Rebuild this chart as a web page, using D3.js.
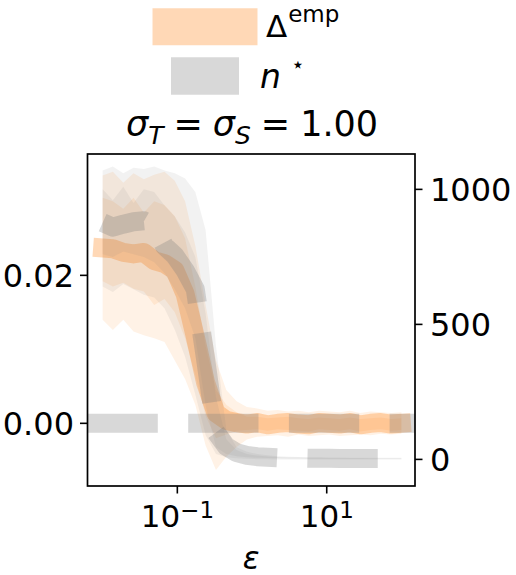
<!DOCTYPE html>
<html>
<head>
<meta charset="utf-8">
<script src="https://cdn.jsdelivr.net/npm/d3@7"></script>
<style>
body { margin: 0; background: #fff; }
text { font-family: "DejaVu Sans"; fill: #000; }
</style>
</head>
<body>
<div id="chart"></div>
<script>
var eps = [0.01, 0.0137, 0.0189, 0.0259, 0.0356, 0.049, 0.0673, 0.0924, 0.127, 0.174,
  0.239, 0.329, 0.452, 0.621, 0.853, 1.17, 1.61, 2.21, 3.04, 4.18,
  5.74, 7.88, 10.8, 14.9, 20.4, 28.1, 38.6, 53.0, 72.8, 100]

// Delta^emp (left axis)
var deltaMean = [0.0237, 0.0236, 0.0231, 0.0229, 0.0231, 0.0220, 0.0216, 0.0207, 0.0175, 0.0117,
  0.0055, 0.0014, 0.0004, 0.0001, -0.0001, 0.0001, -0.0002, 0.0000, 0.0001, -0.0001,
  -0.0002, 0.0001, 0.0000, -0.0001, 0.0001, -0.0002, 0.0000, 0.0001, -0.0001, 0.0000]
var deltaHi1 = [0.0305, 0.0300, 0.0290, 0.0305, 0.0285, 0.0300, 0.0295, 0.0280, 0.0250, 0.0185,
  0.0105, 0.0045, 0.0025, 0.0015, 0.0009, 0.0009, 0.0007, 0.0008, 0.0009, 0.0007,
  0.0006, 0.0008, 0.0007, 0.0006, 0.0008, 0.0006, 0.0007, 0.0008, 0.0006, 0.0007]
var deltaLo1 = [0.0192, 0.0185, 0.0190, 0.0182, 0.0178, 0.0160, 0.0168, 0.0150, 0.0115, 0.0065,
  0.0010, -0.0020, -0.0015, -0.0010, -0.0009, -0.0008, -0.0010, -0.0008, -0.0009, -0.0010,
  -0.0011, -0.0008, -0.0009, -0.0010, -0.0008, -0.0011, -0.0009, -0.0008, -0.0010, -0.0009]
var deltaHi2 = [0.0335, 0.0340, 0.0325, 0.0338, 0.0330, 0.0336, 0.0340, 0.0328, 0.0300, 0.0240,
  0.0160, 0.0085, 0.0045, 0.0030, 0.0022, 0.0020, 0.0017, 0.0018, 0.0016, 0.0017,
  0.0015, 0.0017, 0.0016, 0.0015, 0.0017, 0.0014, 0.0016, 0.0015, 0.0014, 0.0015]
var deltaLo2 = [0.0140, 0.0126, 0.0140, 0.0124, 0.0119, 0.0115, 0.0110, 0.0085, 0.0060, 0.0025,
  -0.0030, -0.0063, -0.0045, -0.0032, -0.0022, -0.0018, -0.0017, -0.0016, -0.0018, -0.0015,
  -0.0017, -0.0016, -0.0015, -0.0017, -0.0016, -0.0015, -0.0016, -0.0014, -0.0015, -0.0014]

// n* (right axis)
var nMean = [877, 860, 871, 880, 884, 862, 790, 755, 700, 630,
  370, 100, 48, 25, 15, 10, 8, 6, 5, 5,
  4, 4, 4, 3, 3, 3, 3, 3, 3, 3]
var nHi1 = [1000, 960, 1010, 950, 1000, 990, 940, 900, 840, 750,
  540, 230, 75, 35, 20, 14, 11, 9, 7, 7,
  6, 6, 5, 5, 5, 5, 4, 4, 4, 4]
var nLo1 = [760, 750, 770, 760, 750, 730, 690, 630, 560, 450,
  200, 45, 20, 12, 8, 6, 5, 4, 3, 3,
  2, 2, 2, 2, 2, 2, 2, 2, 2, 2]
var nHi2 = [1070, 1085, 1060, 1080, 1075, 1085, 1070, 1060, 1040, 990,
  850, 420, 110, 45, 28, 20, 15, 12, 10, 9,
  8, 8, 7, 7, 6, 6, 6, 6, 6, 6]
var nLo2 = [640, 620, 650, 630, 610, 600, 560, 480, 380, 240,
  90, 20, 8, 4, 2, 1, 1, 0, 0, 0,
  0, 0, 0, 0, 0, 0, 0, 0, 0, 0]

var leftTicks = [0, 0.02]
var leftLabels = ["0.00", "0.02"]
var rightTicks = [0, 500, 1000]
var xTicks = [0.1, 10]
var xTickExp = ["\u22121", "1"]

var width = 516, height = 575,
plot = {left: 87.5, right: 415, top: 154, bottom: 486},
orange = "#ff7f0e", gray = "#7f7f7f", lw = 19

var svg = d3.select("#chart")
  .append("svg")
  .attr("width", width)
  .attr("height", height)

var x = d3.scaleLog().domain([0.00627, 152]).range([plot.left, plot.right])
var yL = d3.scaleLinear().domain([-0.00847, 0.0364]).range([plot.bottom, plot.top])
var yR = d3.scaleLinear().domain([-98.5, 1131]).range([plot.bottom, plot.top])

svg.append("clipPath").attr("id", "clip")
  .append("rect")
  .attr("x", plot.left).attr("y", plot.top)
  .attr("width", plot.right - plot.left).attr("height", plot.bottom - plot.top)

var g = svg.append("g").attr("clip-path", "url(#clip)")

function band(lo, hi, y) {
  return d3.area()
    .x(function(d, i) { return x(eps[i]) })
    .y0(function(d, i) { return y(lo[i]) })
    .y1(function(d, i) { return y(hi[i]) })(eps)
}
function curve(vals, y) {
  return d3.line()
    .x(function(d, i) { return x(eps[i]) })
    .y(function(d) { return y(d) })(vals)
}

// Delta bands + line
g.append("path").attr("d", band(deltaLo2, deltaHi2, yL)).attr("fill", orange).attr("fill-opacity", 0.1)
g.append("path").attr("d", band(deltaLo1, deltaHi1, yL)).attr("fill", orange).attr("fill-opacity", 0.1)
g.append("path").attr("d", curve(deltaMean, yL))
  .attr("fill", "none").attr("stroke", orange).attr("stroke-opacity", 0.3)
  .attr("stroke-width", lw).attr("stroke-linecap", "square").attr("stroke-linejoin", "round")

// zero line
g.append("line")
  .attr("x1", plot.left).attr("x2", plot.right)
  .attr("y1", yL(0)).attr("y2", yL(0))
  .attr("stroke", gray).attr("stroke-opacity", 0.3).attr("stroke-width", lw)
  .attr("stroke-dasharray", "70.3,30.4")

// n* bands + line
g.append("path").attr("d", band(nLo2, nHi2, yR)).attr("fill", gray).attr("fill-opacity", 0.1)
g.append("path").attr("d", band(nLo1, nHi1, yR)).attr("fill", gray).attr("fill-opacity", 0.1)
g.append("path").attr("d", curve(nMean, yR))
  .attr("fill", "none").attr("stroke", gray).attr("stroke-opacity", 0.3)
  .attr("stroke-width", lw).attr("stroke-linejoin", "round")
  .attr("stroke-dasharray", "70.3,30.4").attr("stroke-dashoffset", 27)

// frame
svg.append("rect")
  .attr("x", plot.left).attr("y", plot.top)
  .attr("width", plot.right - plot.left).attr("height", plot.bottom - plot.top)
  .attr("fill", "none").attr("stroke", "#000").attr("stroke-width", 1.7)

// left axis
leftTicks.forEach(function(t, i) {
  svg.append("line").attr("x1", plot.left - 7.5).attr("x2", plot.left)
    .attr("y1", yL(t)).attr("y2", yL(t)).attr("stroke", "#000").attr("stroke-width", 1.6)
  svg.append("text").attr("x", 74).attr("y", yL(t) + 12)
    .attr("text-anchor", "end").attr("font-size", 32).text(leftLabels[i])
})

// right axis
rightTicks.forEach(function(t) {
  svg.append("line").attr("x1", plot.right).attr("x2", plot.right + 7.5)
    .attr("y1", yR(t)).attr("y2", yR(t)).attr("stroke", "#000").attr("stroke-width", 1.6)
  svg.append("text").attr("x", 430).attr("y", yR(t) + 11.5)
    .attr("font-size", 32).text(t)
})

// bottom axis
xTicks.forEach(function(t, i) {
  svg.append("line").attr("x1", x(t)).attr("x2", x(t))
    .attr("y1", plot.bottom).attr("y2", plot.bottom + 7.5).attr("stroke", "#000").attr("stroke-width", 1.6)
  var tx = svg.append("text").attr("x", x(t)).attr("y", 527)
    .attr("text-anchor", "middle").attr("font-size", 31)
  tx.append("tspan").text("10")
  tx.append("tspan").attr("dy", -9).attr("font-size", 23).text(xTickExp[i])
})

svg.append("text").attr("x", (plot.left + plot.right) / 2).attr("y", 569)
  .attr("text-anchor", "middle").attr("font-size", 31).attr("font-style", "italic").text("\u03b5")

// title
var title = svg.append("text").attr("x", 252).attr("y", 136)
  .attr("text-anchor", "middle").attr("font-size", 35)
title.append("tspan").attr("font-style", "italic").text("\u03c3")
title.append("tspan").attr("font-style", "italic").attr("font-size", 25).attr("dy", 8).text("T")
title.append("tspan").attr("dy", -8).attr("dx", 10).text("=")
title.append("tspan").attr("dx", 10).attr("font-style", "italic").text("\u03c3")
title.append("tspan").attr("font-style", "italic").attr("font-size", 25).attr("dy", 8).text("S")
title.append("tspan").attr("dy", -8).attr("dx", 10).text("=")
title.append("tspan").attr("dx", 10).text("1.00")

// legend
svg.append("line").attr("x1", 171).attr("x2", 239).attr("y1", 26.7).attr("y2", 26.7)
  .attr("stroke", orange).attr("stroke-opacity", 0.3).attr("stroke-width", 37)
  .attr("stroke-linecap", "square")
svg.append("line").attr("x1", 171).attr("x2", 239).attr("y1", 76).attr("y2", 76)
  .attr("stroke", gray).attr("stroke-opacity", 0.3).attr("stroke-width", 37.5)

var l1 = svg.append("text").attr("x", 266).attr("y", 37).attr("font-size", 31)
l1.append("tspan").text("\u0394")
l1.append("tspan").attr("dy", -15).attr("dx", 1).attr("font-size", 23).text("emp")

var l2 = svg.append("text").attr("x", 260).attr("y", 88).attr("font-size", 33)
l2.append("tspan").attr("font-style", "italic").text("n")
l2.append("tspan").attr("dx", 10).attr("dy", -16).attr("font-size", 22).text("\u22c6")
</script>
</body>
</html>
